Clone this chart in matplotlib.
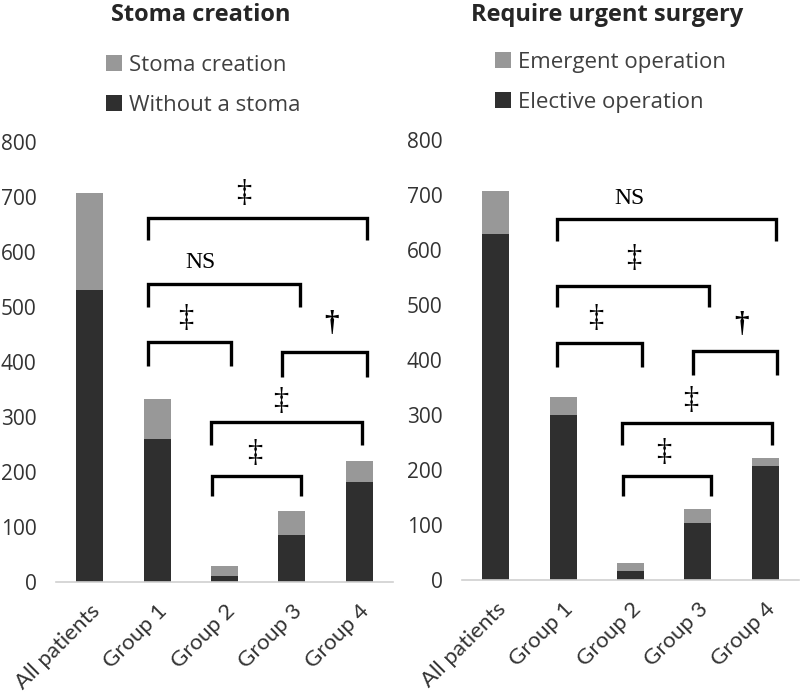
import matplotlib
matplotlib.use("Agg")
import matplotlib.pyplot as plt

categories = ['All patients', 'Group 1', 'Group 2', 'Group 3', 'Group 4']
yticks = [0, 100, 200, 300, 400, 500, 600, 700, 800]

# Left chart: Stoma creation
without_stoma = [531, 260, 10, 84, 181]
stoma_creation = [177, 72, 19, 44, 38]

# Right chart: Require urgent surgery
elective_op = [628, 299, 15, 102, 206]
emergent_op = [79, 33, 15, 27, 15]

# Significance brackets: (x_left, x_right, y_bar, y_leg, label, label_x, label_y)
left_brackets = [
    (0.86, 4.11, 662, 622, '‡', 2.28, 707),
    (0.86, 3.12, 541, 500, 'NS', 1.64, 580),
    (0.86, 2.10, 436, 392, '‡', 1.42, 479),
    (2.85, 4.11, 417, 372, '†', 3.59, 470),
    (1.80, 4.04, 291, 249, '‡', 2.84, 327),
    (1.82, 3.13, 192, 156, '‡', 2.45, 233),
]
right_brackets = [
    (0.91, 4.16, 657, 617, 'NS', 1.99, 693),
    (0.91, 3.17, 535, 496, '‡', 2.05, 584),
    (0.91, 2.17, 431, 387, '‡', 1.48, 475),
    (2.92, 4.17, 416, 372, '†', 3.64, 465),
    (1.87, 4.10, 285, 245, '‡', 2.89, 326),
    (1.89, 3.20, 188, 152, '‡', 2.50, 232),
]

DARK = '#2f2f2f'
GREY = '#989898'
W, H = 800, 698

fig = plt.figure(figsize=(8.0, 6.98), dpi=100)
plt.rcParams['font.family'] = ['Open Sans', 'DejaVu Sans']
SERIF = ['Liberation Serif', 'DejaVu Serif']


def make_panel(rect_px, bottom_vals, top_vals, labels, title, title_x, legend_xy, brackets):
    x0, y_top, x1, y_bot = rect_px
    ax = fig.add_axes([x0 / W, (H - y_bot) / H, (x1 - x0) / W, (y_bot - y_top) / H])
    xs = list(range(len(categories)))
    b1 = ax.bar(xs, bottom_vals, width=0.4, color=DARK, zorder=2)
    b2 = ax.bar(xs, top_vals, width=0.4, bottom=bottom_vals, color=GREY, zorder=2)
    ax.set_xlim(-0.5, len(categories) - 0.5)
    ax.set_ylim(0, 800)
    ax.set_yticks(yticks)
    ax.set_yticklabels([str(v) for v in yticks], fontsize=15, color='#333333')
    ax.set_xticks(xs)
    ax.set_xticklabels(categories, rotation=45, ha='right', rotation_mode='anchor',
                       fontsize=16, color='#333333', family=['Lato', 'DejaVu Sans'])
    ax.tick_params(axis='y', length=0, pad=14)
    ax.tick_params(axis='x', length=0, pad=14)
    for s in ['top', 'right', 'left']:
        ax.spines[s].set_visible(False)
    ax.spines['bottom'].set_color('#d0d0d0')
    ax.spines['bottom'].set_linewidth(1.2)
    for (xl, xr, yb, yl, lab, lx, ly) in brackets:
        ax.plot([xl, xl, xr, xr], [yl, yb, yb, yl], color='black', lw=2.4,
                solid_joinstyle='miter', solid_capstyle='butt', zorder=3, clip_on=False)
        if lab == 'NS':
            ax.text(lx, ly, lab, ha='center', va='center', fontsize=17,
                    family=SERIF, zorder=4)
        elif lab == '‡':
            ax.text(lx, ly, lab, ha='center', va='center', fontsize=22,
                    family=SERIF, zorder=4)
        else:
            ax.text(lx, ly, lab, ha='center', va='center', fontsize=21,
                    family=SERIF, fontweight='bold', zorder=4)
    fig.text(title_x / W, (H - 15) / H, title, ha='center', va='center',
             fontsize=17, fontweight='bold', color='#262626')
    leg = fig.legend([b2, b1], labels, loc='upper left',
                     bbox_to_anchor=(legend_xy[0] / W, (H - legend_xy[1]) / H),
                     frameon=False, fontsize=16, handlelength=0.7, handleheight=0.7,
                     handletextpad=0.35, labelspacing=0.85, borderpad=0, borderaxespad=0)
    for t in leg.get_texts():
        t.set_color('#404040')
    return ax


make_panel((56, 142, 393, 581.5), without_stoma, stoma_creation,
           ['Stoma creation', 'Without a stoma'], 'Stoma creation', 201,
           (106, 55), left_brackets)
make_panel((462, 140, 799, 579.5), elective_op, emergent_op,
           ['Emergent operation', 'Elective operation'], 'Require urgent surgery', 607,
           (495, 52), right_brackets)

fig.savefig('out.png', dpi=100)
